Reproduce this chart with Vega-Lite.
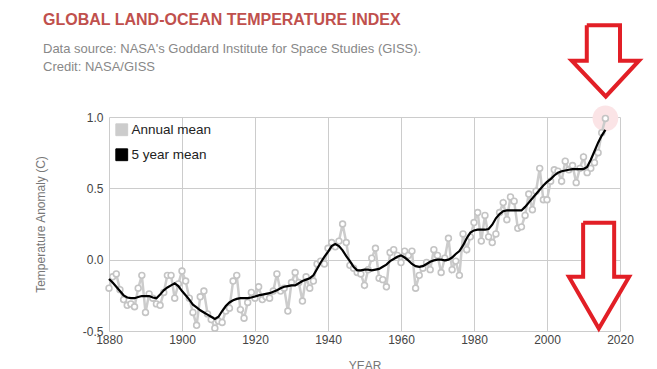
{
  "$schema": "https://vega.github.io/schema/vega-lite/v6.json",
  "width": 511,
  "height": 214,
  "autosize": "none",
  "padding": {"left": 109, "top": 117, "right": 37, "bottom": 38},
  "background": "white",
  "config": {
    "font": "Liberation Sans",
    "view": {"stroke": null},
    "axis": {
      "domain": false,
      "ticks": false,
      "grid": true,
      "gridColor": "#cccccc",
      "gridWidth": 1,
      "labelFont": "Liberation Sans",
      "labelFontSize": 12,
      "labelColor": "#444444",
      "titleFont": "Liberation Sans",
      "titleFontSize": 12,
      "titleColor": "#777777",
      "titleFontWeight": "normal"
    }
  },
  "title": {
    "text": "GLOBAL LAND-OCEAN TEMPERATURE INDEX",
    "subtitle": ["Data source: NASA's Goddard Institute for Space Studies (GISS).", "Credit: NASA/GISS"],
    "anchor": "start",
    "frame": "group",
    "dx": -66,
    "dy": 61,
    "font": "Liberation Sans",
    "fontSize": 16,
    "fontWeight": "bold",
    "color": "#c0504d",
    "subtitleFont": "Liberation Sans",
    "subtitleFontSize": 13,
    "subtitleColor": "#888888",
    "subtitlePadding": 15,
    "subtitleLineHeight": 18
  },
  "datasets": {
    "giss": [
      {"year": 1880, "annual": -0.20, "mean5": -0.135},
      {"year": 1881, "annual": -0.12, "mean5": -0.16},
      {"year": 1882, "annual": -0.10, "mean5": -0.19},
      {"year": 1883, "annual": -0.21, "mean5": -0.22},
      {"year": 1884, "annual": -0.28, "mean5": -0.25},
      {"year": 1885, "annual": -0.32, "mean5": -0.265},
      {"year": 1886, "annual": -0.31, "mean5": -0.27},
      {"year": 1887, "annual": -0.33, "mean5": -0.27},
      {"year": 1888, "annual": -0.20, "mean5": -0.262},
      {"year": 1889, "annual": -0.11, "mean5": -0.255},
      {"year": 1890, "annual": -0.37, "mean5": -0.255},
      {"year": 1891, "annual": -0.24, "mean5": -0.255},
      {"year": 1892, "annual": -0.27, "mean5": -0.265},
      {"year": 1893, "annual": -0.31, "mean5": -0.27},
      {"year": 1894, "annual": -0.32, "mean5": -0.245},
      {"year": 1895, "annual": -0.23, "mean5": -0.215},
      {"year": 1896, "annual": -0.11, "mean5": -0.195},
      {"year": 1897, "annual": -0.11, "mean5": -0.18},
      {"year": 1898, "annual": -0.27, "mean5": -0.165},
      {"year": 1899, "annual": -0.17, "mean5": -0.185},
      {"year": 1900, "annual": -0.08, "mean5": -0.22},
      {"year": 1901, "annual": -0.15, "mean5": -0.25},
      {"year": 1902, "annual": -0.27, "mean5": -0.28},
      {"year": 1903, "annual": -0.37, "mean5": -0.315},
      {"year": 1904, "annual": -0.46, "mean5": -0.335},
      {"year": 1905, "annual": -0.26, "mean5": -0.355},
      {"year": 1906, "annual": -0.22, "mean5": -0.37},
      {"year": 1907, "annual": -0.38, "mean5": -0.385},
      {"year": 1908, "annual": -0.42, "mean5": -0.40},
      {"year": 1909, "annual": -0.48, "mean5": -0.415},
      {"year": 1910, "annual": -0.43, "mean5": -0.40},
      {"year": 1911, "annual": -0.44, "mean5": -0.36},
      {"year": 1912, "annual": -0.36, "mean5": -0.325},
      {"year": 1913, "annual": -0.34, "mean5": -0.30},
      {"year": 1914, "annual": -0.15, "mean5": -0.285},
      {"year": 1915, "annual": -0.11, "mean5": -0.275},
      {"year": 1916, "annual": -0.35, "mean5": -0.27},
      {"year": 1917, "annual": -0.41, "mean5": -0.27},
      {"year": 1918, "annual": -0.30, "mean5": -0.27},
      {"year": 1919, "annual": -0.23, "mean5": -0.265},
      {"year": 1920, "annual": -0.27, "mean5": -0.258},
      {"year": 1921, "annual": -0.19, "mean5": -0.25},
      {"year": 1922, "annual": -0.28, "mean5": -0.245},
      {"year": 1923, "annual": -0.26, "mean5": -0.24},
      {"year": 1924, "annual": -0.27, "mean5": -0.235},
      {"year": 1925, "annual": -0.22, "mean5": -0.225},
      {"year": 1926, "annual": -0.10, "mean5": -0.215},
      {"year": 1927, "annual": -0.22, "mean5": -0.20},
      {"year": 1928, "annual": -0.20, "mean5": -0.19},
      {"year": 1929, "annual": -0.36, "mean5": -0.185},
      {"year": 1930, "annual": -0.16, "mean5": -0.18},
      {"year": 1931, "annual": -0.09, "mean5": -0.18},
      {"year": 1932, "annual": -0.16, "mean5": -0.165},
      {"year": 1933, "annual": -0.29, "mean5": -0.15},
      {"year": 1934, "annual": -0.12, "mean5": -0.14},
      {"year": 1935, "annual": -0.20, "mean5": -0.13},
      {"year": 1936, "annual": -0.15, "mean5": -0.11},
      {"year": 1937, "annual": -0.03, "mean5": -0.065},
      {"year": 1938, "annual": -0.01, "mean5": -0.02},
      {"year": 1939, "annual": -0.03, "mean5": 0.02},
      {"year": 1940, "annual": 0.08, "mean5": 0.055},
      {"year": 1941, "annual": 0.12, "mean5": 0.095},
      {"year": 1942, "annual": 0.09, "mean5": 0.11},
      {"year": 1943, "annual": 0.13, "mean5": 0.095},
      {"year": 1944, "annual": 0.25, "mean5": 0.065},
      {"year": 1945, "annual": 0.12, "mean5": 0.025},
      {"year": 1946, "annual": -0.04, "mean5": -0.01},
      {"year": 1947, "annual": -0.06, "mean5": -0.05},
      {"year": 1948, "annual": -0.09, "mean5": -0.075},
      {"year": 1949, "annual": -0.10, "mean5": -0.075},
      {"year": 1950, "annual": -0.18, "mean5": -0.07},
      {"year": 1951, "annual": -0.07, "mean5": -0.07},
      {"year": 1952, "annual": 0.01, "mean5": -0.075},
      {"year": 1953, "annual": 0.08, "mean5": -0.07},
      {"year": 1954, "annual": -0.13, "mean5": -0.065},
      {"year": 1955, "annual": -0.14, "mean5": -0.05},
      {"year": 1956, "annual": -0.19, "mean5": -0.035},
      {"year": 1957, "annual": 0.05, "mean5": -0.01},
      {"year": 1958, "annual": 0.07, "mean5": 0.005},
      {"year": 1959, "annual": 0.03, "mean5": 0.02},
      {"year": 1960, "annual": -0.02, "mean5": 0.03},
      {"year": 1961, "annual": 0.06, "mean5": 0.015},
      {"year": 1962, "annual": 0.03, "mean5": -0.005},
      {"year": 1963, "annual": 0.06, "mean5": -0.03},
      {"year": 1964, "annual": -0.20, "mean5": -0.045},
      {"year": 1965, "annual": -0.11, "mean5": -0.05},
      {"year": 1966, "annual": -0.06, "mean5": -0.045},
      {"year": 1967, "annual": -0.02, "mean5": -0.03},
      {"year": 1968, "annual": -0.07, "mean5": -0.015},
      {"year": 1969, "annual": 0.07, "mean5": -0.005},
      {"year": 1970, "annual": 0.03, "mean5": 0.0},
      {"year": 1971, "annual": -0.09, "mean5": 0.0},
      {"year": 1972, "annual": 0.01, "mean5": -0.005},
      {"year": 1973, "annual": 0.15, "mean5": 0.0},
      {"year": 1974, "annual": -0.07, "mean5": 0.015},
      {"year": 1975, "annual": -0.01, "mean5": 0.04},
      {"year": 1976, "annual": -0.11, "mean5": 0.06},
      {"year": 1977, "annual": 0.18, "mean5": 0.10},
      {"year": 1978, "annual": 0.07, "mean5": 0.15},
      {"year": 1979, "annual": 0.16, "mean5": 0.19},
      {"year": 1980, "annual": 0.26, "mean5": 0.205},
      {"year": 1981, "annual": 0.33, "mean5": 0.21},
      {"year": 1982, "annual": 0.13, "mean5": 0.21},
      {"year": 1983, "annual": 0.31, "mean5": 0.21},
      {"year": 1984, "annual": 0.16, "mean5": 0.215},
      {"year": 1985, "annual": 0.12, "mean5": 0.245},
      {"year": 1986, "annual": 0.18, "mean5": 0.29},
      {"year": 1987, "annual": 0.33, "mean5": 0.32},
      {"year": 1988, "annual": 0.40, "mean5": 0.34},
      {"year": 1989, "annual": 0.28, "mean5": 0.345},
      {"year": 1990, "annual": 0.44, "mean5": 0.345},
      {"year": 1991, "annual": 0.41, "mean5": 0.345},
      {"year": 1992, "annual": 0.22, "mean5": 0.345},
      {"year": 1993, "annual": 0.23, "mean5": 0.345},
      {"year": 1994, "annual": 0.31, "mean5": 0.37},
      {"year": 1995, "annual": 0.46, "mean5": 0.40},
      {"year": 1996, "annual": 0.35, "mean5": 0.43},
      {"year": 1997, "annual": 0.48, "mean5": 0.46},
      {"year": 1998, "annual": 0.64, "mean5": 0.49},
      {"year": 1999, "annual": 0.42, "mean5": 0.52},
      {"year": 2000, "annual": 0.42, "mean5": 0.545},
      {"year": 2001, "annual": 0.55, "mean5": 0.565},
      {"year": 2002, "annual": 0.63, "mean5": 0.59},
      {"year": 2003, "annual": 0.62, "mean5": 0.61},
      {"year": 2004, "annual": 0.55, "mean5": 0.62},
      {"year": 2005, "annual": 0.69, "mean5": 0.625},
      {"year": 2006, "annual": 0.63, "mean5": 0.63},
      {"year": 2007, "annual": 0.66, "mean5": 0.635},
      {"year": 2008, "annual": 0.54, "mean5": 0.635},
      {"year": 2009, "annual": 0.64, "mean5": 0.635},
      {"year": 2010, "annual": 0.72, "mean5": 0.635},
      {"year": 2011, "annual": 0.61, "mean5": 0.65},
      {"year": 2012, "annual": 0.64, "mean5": 0.70},
      {"year": 2013, "annual": 0.68, "mean5": 0.76},
      {"year": 2014, "annual": 0.75, "mean5": 0.82},
      {"year": 2015, "annual": 0.89, "mean5": 0.87},
      {"year": 2016, "annual": 0.99, "mean5": 0.91}
    ],
    "arrows": [
      {"arrow": "upper", "i": 0, "x": 2010.9, "y": 1.643},
      {"arrow": "upper", "i": 1, "x": 2020.0, "y": 1.643},
      {"arrow": "upper", "i": 2, "x": 2020.0, "y": 1.395},
      {"arrow": "upper", "i": 3, "x": 2025.2, "y": 1.395},
      {"arrow": "upper", "i": 4, "x": 2016.1, "y": 1.144},
      {"arrow": "upper", "i": 5, "x": 2006.8, "y": 1.395},
      {"arrow": "upper", "i": 6, "x": 2010.9, "y": 1.395},
      {"arrow": "upper", "i": 7, "x": 2010.9, "y": 1.643},
      {"arrow": "lower", "i": 0, "x": 2009.9, "y": 0.259},
      {"arrow": "lower", "i": 1, "x": 2018.4, "y": 0.259},
      {"arrow": "lower", "i": 2, "x": 2018.4, "y": -0.119},
      {"arrow": "lower", "i": 3, "x": 2022.5, "y": -0.119},
      {"arrow": "lower", "i": 4, "x": 2014.2, "y": -0.483},
      {"arrow": "lower", "i": 5, "x": 2006.0, "y": -0.119},
      {"arrow": "lower", "i": 6, "x": 2009.9, "y": -0.119},
      {"arrow": "lower", "i": 7, "x": 2009.9, "y": 0.259}
    ]
  },
  "layer": [
    {
      "data": {"name": "giss"},
      "transform": [{"filter": "datum.year == 2016"}],
      "mark": {"type": "point", "shape": "circle", "filled": true, "fill": "#fbe4e6", "opacity": 1, "strokeWidth": 0, "size": 660},
      "encoding": {
        "x": {"field": "year", "type": "quantitative", "title": "YEAR",
              "scale": {"domain": [1880, 2020], "nice": false, "zero": false},
              "axis": {"values": [1880, 1900, 1920, 1940, 1960, 1980, 2000, 2020], "format": "d", "labelFlush": false, "labelPadding": 3, "titlePadding": 15}},
        "y": {"field": "annual", "type": "quantitative", "title": "Temperature Anomaly (C)",
              "scale": {"domain": [-0.5, 1.0], "nice": false, "zero": false},
              "axis": {"values": [-0.5, 0, 0.5, 1.0], "labelExpr": "replace(format(datum.value, '.1f'), '\u2212', '-')", "labelPadding": 6, "titlePadding": 35}}
      }
    },
    {
      "data": {"name": "giss"},
      "mark": {"type": "line", "strokeWidth": 2.5},
      "encoding": {
        "x": {"field": "year", "type": "quantitative", "title": "YEAR"},
        "y": {"field": "annual", "type": "quantitative", "title": "Temperature Anomaly (C)"},
        "color": {"datum": "Annual mean", "type": "nominal",
                  "scale": {"domain": ["Annual mean", "5 year mean"], "range": ["#cccccc", "#000000"]},
                  "legend": {"orient": "top-left", "offset": 6, "title": null, "padding": 0,
                             "symbolType": "square", "symbolSize": 140, "symbolStrokeWidth": 1,
                             "labelFont": "Liberation Sans", "labelFontSize": 13.5, "labelColor": "#222222",
                             "rowPadding": 8, "labelOffset": 3,
                             "encode": {"symbols": {"update": {"fill": {"scale": "color", "field": "value"}, "stroke": {"value": "#aaaaaa"}, "strokeWidth": {"value": 1}, "opacity": {"value": 1}}}}}}
      }
    },
    {
      "data": {"name": "giss"},
      "mark": {"type": "point", "shape": "circle", "filled": true, "fill": "white", "stroke": "#c4c4c4", "strokeWidth": 1.6, "size": 34, "opacity": 1},
      "encoding": {
        "x": {"field": "year", "type": "quantitative", "title": "YEAR"},
        "y": {"field": "annual", "type": "quantitative", "title": "Temperature Anomaly (C)"}
      }
    },
    {
      "data": {"name": "giss"},
      "mark": {"type": "line", "strokeWidth": 2.2},
      "encoding": {
        "x": {"field": "year", "type": "quantitative", "title": "YEAR"},
        "y": {"field": "mean5", "type": "quantitative", "title": "Temperature Anomaly (C)"},
        "color": {"datum": "5 year mean", "type": "nominal"}
      }
    },
    {
      "data": {"name": "arrows"},
      "mark": {"type": "line", "stroke": "#e21f26", "fill": "white", "strokeWidth": 4, "clip": false, "strokeJoin": "miter"},
      "encoding": {
        "x": {"field": "x", "type": "quantitative", "title": "YEAR"},
        "y": {"field": "y", "type": "quantitative", "title": "Temperature Anomaly (C)"},
        "detail": {"field": "arrow", "type": "nominal"},
        "order": {"field": "i", "type": "quantitative"}
      }
    }
  ]
}
